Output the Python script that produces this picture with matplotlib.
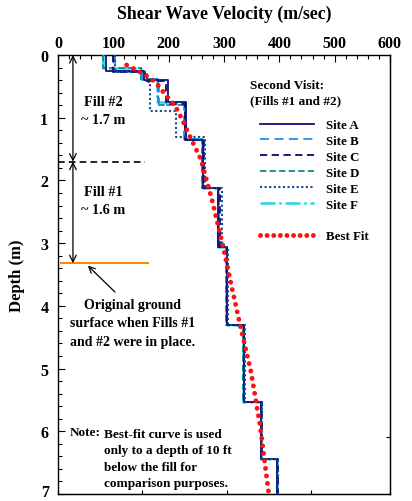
import numpy as np
import matplotlib
matplotlib.use("Agg")
import matplotlib.pyplot as plt
from matplotlib.lines import Line2D
from matplotlib.ticker import MultipleLocator
import matplotlib.transforms as mtransforms

plt.rcParams['font.family'] = ['Liberation Serif', 'DejaVu Serif']
plt.rcParams['font.weight'] = 'bold'

# ---- data ----
sites = ["Site A", "Site B", "Site C", "Site D", "Site E", "Site F"]
bounds_A = [0, 0.25, 0.40, 0.75, 1.36, 2.12, 3.06, 4.31, 5.53, 6.44, 7.0]
vel_A = [87, 155, 199, 232, 262, 290, 305, 336, 367, 396]
bounds_B = [0, 0.27, 0.38, 0.80, 1.34, 2.12, 3.06, 4.31, 5.53, 6.44, 7.0]
vel_B = [103, 152, 183, 228, 262, 291, 305, 336, 367, 396]
bounds_C = [0, 0.27, 0.42, 0.78, 1.36, 2.12, 3.06, 4.31, 5.53, 6.44, 7.0]
vel_C = [100, 158, 195, 230, 264, 292, 306, 337, 368, 397]
bounds_D = [0, 0.20, 0.38, 0.80, 1.34, 2.12, 3.06, 4.31, 5.53, 6.44, 7.0]
vel_D = [81, 150, 180, 229, 260, 289, 304, 335, 366, 395]
bounds_E = [0, 0.27, 0.43, 0.90, 1.31, 2.12, 3.06, 4.31, 5.53, 6.44, 7.0]
vel_E = [103, 160, 166, 213, 266, 296, 307, 338, 369, 398]
bounds_F = [0, 0.20, 0.38, 0.75, 1.34, 2.12, 3.06, 4.31, 5.53, 6.44, 7.0]
vel_F = [81, 150, 179, 230, 260, 289, 304, 335, 366, 395]

fit_depth = [0.16, 0.30, 0.43, 0.62, 0.80, 1.02, 1.29, 1.66, 2.30, 3.04, 3.78, 4.30, 5.06, 5.90, 7.00]
fit_vel = [124, 154, 176, 193, 211, 224, 238, 258, 278, 298, 316, 329, 349, 365, 381]

fill2_top, fill2_bottom = 0.0, 1.7
fill1_bottom = 3.32
x_ticks = [0, 100, 200, 300, 400, 500, 600]
y_ticks = [0, 1, 2, 3, 4, 5, 6, 7]
y_ticklabels = ["0", "1", "2", "3", "4", "5", "6", "7"]

styles = {
    "Site A": dict(color="#10107a", ls="-", lw=1.3),
    "Site B": dict(color="#2a8cf0", ls=(0, (5, 3)), lw=1.3),
    "Site C": dict(color="#0a0a6e", ls=(0, (4, 2.5)), lw=1.3),
    "Site D": dict(color="#108a8a", ls=(0, (3.5, 1.8)), lw=1.3),
    "Site E": dict(color="#104a90", ls=(0, (1, 1.2)), lw=1.5),
    "Site F": dict(color="#22d8e0", ls=(0, (6, 1.5, 1, 1.5)), lw=1.8),
}
profiles = {"Site A": (bounds_A, vel_A), "Site B": (bounds_B, vel_B),
            "Site C": (bounds_C, vel_C), "Site D": (bounds_D, vel_D),
            "Site E": (bounds_E, vel_E), "Site F": (bounds_F, vel_F)}

W, H = 412, 502
fig = plt.figure(figsize=(W / 100, H / 100), dpi=100)
L, R, T, B = 58, 390, 56, 495
ax = fig.add_axes([L / W, (H - B) / H, (R - L) / W, (B - T) / H])

draw_order = ["Site F", "Site D", "Site B", "Site C", "Site A", "Site E"]
for s in draw_order:
    bnd, vel = profiles[s]
    bnd = np.asarray(bnd); vel = np.asarray(vel)
    xs = np.repeat(vel, 2)
    ys = np.column_stack([bnd[:-1], bnd[1:]]).ravel()
    st = styles[s]
    ax.plot(xs, ys, color=st["color"], linestyle=st["ls"], lw=st["lw"], zorder=3)

dot_ls = (0, (0.01, 1.55))
ax.plot(fit_vel, fit_depth, color="#ff1010", lw=3.5, linestyle=dot_ls,
        dash_capstyle="round", zorder=4)

ax.set_xlim(0, 600)
ax.set_ylim(7, 0)

ax.xaxis.tick_top()
ax.set_xticks(x_ticks)
ax.xaxis.set_minor_locator(MultipleLocator(20))
ax.set_yticks(y_ticks)
ax.set_yticklabels(y_ticklabels[:-1] + [""])
ax.yaxis.set_minor_locator(MultipleLocator(0.2))
ax.tick_params(axis="x", which="both", direction="in", top=True, bottom=False,
               labelsize=11.5, pad=3)
ax.tick_params(axis="y", which="both", direction="in", left=True, right=False,
               labelsize=11.5, pad=7)
ax.tick_params(which="major", length=5, width=0.8)
ax.tick_params(which="minor", length=3, width=0.8)
for lab in ax.get_xticklabels() + ax.get_yticklabels():
    lab.set_fontweight("bold")
# last depth label, nudged up so it stays inside the picture
off = mtransforms.offset_copy(ax.get_yaxis_transform(), fig=fig, x=-9, y=2, units="dots")
ax.text(0, y_ticks[-1], y_ticklabels[-1], transform=off, ha="right", va="center",
        fontsize=11.5, fontweight="bold")

# secondary ticks in ft units (bottom / right), unlabeled
sec_b = ax.secondary_xaxis("bottom")
sec_b.set_xticks([152.4, 304.8, 457.2])
sec_b.tick_params(direction="in", length=3, labelbottom=False)
sec_r = ax.secondary_yaxis("right")
sec_r.set_yticks([6.096])
sec_r.tick_params(direction="in", length=3, labelright=False)

for sp in ax.spines.values():
    sp.set_linewidth(1.0)

fig.text(224 / W, 1 - 14 / H, "Shear Wave Velocity (m/sec)", ha="center",
         va="center", fontsize=12.8, fontweight="bold")
ax.set_ylabel("Depth (m)", fontsize=12, fontweight="bold")
ax.yaxis.set_label_coords(-(L - 25) / (R - L), 0.5)

# fill annotations
arrow_v = 27
ax.annotate("", xy=(arrow_v, fill2_top), xytext=(arrow_v, fill2_bottom),
            arrowprops=dict(arrowstyle="<->", color="black", lw=0.9,
                            mutation_scale=12, shrinkA=0, shrinkB=0))
ax.annotate("", xy=(arrow_v, fill2_bottom), xytext=(arrow_v, fill1_bottom),
            arrowprops=dict(arrowstyle="<->", color="black", lw=0.9,
                            mutation_scale=12, shrinkA=0, shrinkB=0))
ax.plot([0, 158], [fill2_bottom, fill2_bottom], color="black", lw=1.2,
        linestyle=(0, (4, 2.5)), zorder=2)
ax.plot([5, 162], [fill1_bottom, fill1_bottom], color="#ff8c00", lw=1.5, zorder=2)

ax.text(81, 0.89, "Fill #2\n~ 1.7 m", ha="center", va="center", fontsize=10.3,
        fontweight="bold", linespacing=1.5)
ax.text(81, 2.32, "Fill #1\n~ 1.6 m", ha="center", va="center", fontsize=10.3,
        fontweight="bold", linespacing=1.5)

ax.annotate("", xy=(54, 3.36), xytext=(103, 3.78),
            arrowprops=dict(arrowstyle="->", color="black", lw=0.9,
                            mutation_scale=11, shrinkA=0, shrinkB=0))
ax.text(134, 4.27, "Original ground\nsurface when Fills #1\nand #2 were in place.",
        ha="center", va="center", fontsize=10, fontweight="bold", linespacing=1.55)

ax.text(21.7, 6.01, "Note:", ha="left", va="center", fontsize=9.5, fontweight="bold")
ax.text(83, 6.43, "Best-fit curve is used\nonly to a depth of 10 ft\nbelow the fill for\ncomparison purposes.",
        ha="left", va="center", fontsize=9.5, fontweight="bold", linespacing=1.5)

# legend
ax.text(347, 0.60, "Second Visit:\n(Fills #1 and #2)", ha="left", va="center",
        fontsize=9.5, fontweight="bold", linespacing=1.3)
handles = []
labels = []
for s in sites:
    st = styles[s]
    handles.append(Line2D([], [], color=st["color"], linestyle=st["ls"], lw=st["lw"]))
    labels.append(s)
handles.append(Line2D([], [], linestyle="none"))
labels.append(" ")
handles.append(Line2D([], [], color="#ff1010", lw=3.5, linestyle=(0, (0.01, 1.35)),
                      dash_capstyle="round"))
labels.append("Best Fit")
leg = ax.legend(handles, labels, loc="upper left",
                bbox_to_anchor=((260 - L) / (R - L), 1 - (120 - T) / (B - T)),
                frameon=False, borderpad=0, borderaxespad=0, handlelength=4.2,
                handletextpad=0.9, labelspacing=0.3,
                prop=dict(family="Liberation Serif", weight="bold", size=9.3))

fig.savefig("out.png", dpi=100)
